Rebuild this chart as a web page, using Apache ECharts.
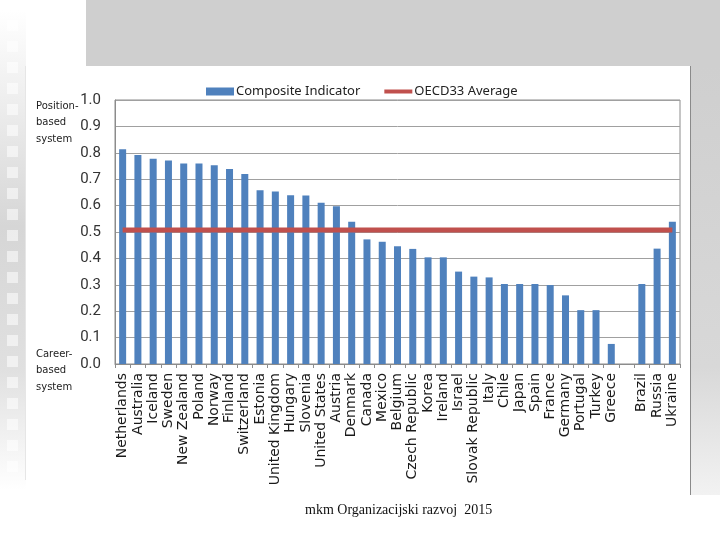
<!DOCTYPE html>
<html>
<head>
<meta charset="utf-8">
<script src="https://cdn.jsdelivr.net/npm/echarts@6/dist/echarts.min.js"></script>
<style>html,body{margin:0;padding:0;background:#fff;}#c{width:720px;height:540px;}</style>
</head>
<body>
<div id="c"></div>
<script>
const categories = ['Netherlands','Australia','Iceland','Sweden','New Zealand','Poland','Norway','Finland','Switzerland','Estonia','United Kingdom','Hungary','Slovenia','United States','Austria','Denmark','Canada','Mexico','Belgium','Czech Republic','Korea','Ireland','Israel','Slovak Republic','Italy','Chile','Japan','Spain','France','Germany','Portugal','Turkey','Greece','','Brazil','Russia','Ukraine'];
const compositeIndicator = [0.813,0.792,0.777,0.771,0.759,0.759,0.753,0.739,0.720,0.658,0.653,0.639,0.638,0.611,0.598,0.539,0.472,0.463,0.446,0.436,0.404,0.404,0.350,0.331,0.328,0.303,0.303,0.303,0.299,0.260,0.204,0.204,0.076,null,0.303,0.437,0.539];
const oecdAverage = 0.508;
const averageLine = categories.map(() => oecdAverage);
const yTicks = ['0.0','0.1','0.2','0.3','0.4','0.5','0.6','0.7','0.8','0.9','1.0'];

const chart = echarts.init(document.getElementById('c'), null, {renderer: 'canvas'});

const deco = [];
deco.push({type:'rect', shape:{x:86,y:0,width:634,height:66}, style:{fill:'#cfcfcf'}, z:-10});
deco.push({type:'rect', shape:{x:690,y:66,width:30,height:429}, style:{fill:{type:'linear',x:0,y:0,x2:0,y2:1,colorStops:[{offset:0,color:'#cfcfcf'},{offset:0.7,color:'#d8d8d8'},{offset:1,color:'#f2f2f2'}]}}, z:-10});
deco.push({type:'rect', shape:{x:0,y:10,width:26,height:480}, style:{fill:{type:'linear',x:0,y:0,x2:0,y2:1,colorStops:[{offset:0,color:'#ffffff'},{offset:0.45,color:'#d6d6d6'},{offset:0.75,color:'#e0e0e0'},{offset:1,color:'#ffffff'}]}}, z:-10});
for (let i = 0; i < 22; i++) {
  deco.push({type:'rect', shape:{x:7,y:20 + i*21,width:11,height:11}, style:{fill:'rgba(255,255,255,0.55)'}, z:-9});
}
deco.push({type:'rect', shape:{x:26,y:66,width:664,height:429}, style:{fill:'#ffffff'}, z:-8});
deco.push({type:'line', shape:{x1:690.5,y1:66,x2:690.5,y2:495}, style:{stroke:'#8a8a8a',lineWidth:1}, z:-7});
deco.push({type:'line', shape:{x1:25.5,y1:66,x2:25.5,y2:480}, style:{stroke:'#e6e6e6',lineWidth:1}, z:-7});
deco.push({type:'text', left:36, top:98, style:{text:'Position-\nbased\nsystem', font:'10px "DejaVu Sans"', fill:'#222', lineHeight:16.5}});
deco.push({type:'text', left:36, top:346, style:{text:'Career-\nbased\nsystem', font:'10px "DejaVu Sans"', fill:'#222', lineHeight:16.5}});
deco.push({type:'text', left:305, top:503, style:{text:'mkm Organizacijski razvoj  2015', font:'14px "Liberation Serif"', fill:'#111'}});

chart.setOption({
  backgroundColor: '#ffffff',
  animation: false,
  graphic: deco,
  legend: {
    left: 201, top: 80,
    itemWidth: 28, itemHeight: 8, itemGap: 22,
    textStyle: {fontFamily: 'Noto Sans', fontSize: 13, color: '#222', padding:[0,0,0,-3]},
    data: [
      {name:'Composite Indicator', icon:'rect'},
      {name:'OECD33 Average', itemStyle:{color:'rgba(0,0,0,0)', borderWidth:0, opacity:0}, lineStyle:{width:4, color:'#c0504d'}}
    ]
  },
  grid: {left: 115, right: 40, top: 100, bottom: 176, show: true, borderColor: '#8c8c8c', borderWidth: 1, backgroundColor: 'transparent'},
  xAxis: {
    type: 'category', data: categories,
    axisLine: {lineStyle: {color: '#8c8c8c'}},
    axisTick: {show: true, length: 4, lineStyle: {color: '#8c8c8c'}, interval: 0},
    axisLabel: {rotate: 90, interval: 0, margin: 9, fontFamily: 'DejaVu Sans', fontSize: 14, color: '#1a1a1a'}
  },
  yAxis: {
    type: 'value', min: 0, max: 1, interval: 0.1,
    axisLine: {show: true, lineStyle: {color: '#8c8c8c'}},
    axisTick: {show: false},
    splitLine: {lineStyle: {color: '#a0a0a0'}},
    axisLabel: {margin: 14, fontFamily: 'Roboto', fontSize: 15, color: '#333', formatter: v => yTicks[Math.round(v*10)]}
  },
  series: [
    {name: 'Composite Indicator', type: 'bar', data: compositeIndicator, barWidth: 7, itemStyle: {color: '#4f81bd'}, z: 2},
    {name: 'OECD33 Average', type: 'line', data: averageLine, symbol: 'none', lineStyle: {color: '#c0504d', width: 5}, itemStyle:{color:'#c0504d'}, z: 3}
  ]
});
</script>
</body>
</html>
